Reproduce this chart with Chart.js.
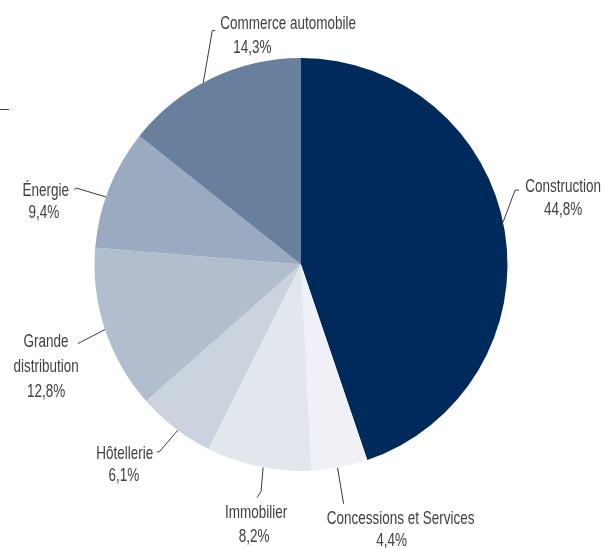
<!DOCTYPE html>
<html>
<head>
<meta charset="utf-8">
<script src="https://cdn.jsdelivr.net/npm/chart.js@4"></script>
<style>
  html, body { margin: 0; padding: 0; background: #fff; }
  #wrap { width: 605px; height: 548px; }
</style>
</head>
<body>
<div id="wrap"><canvas id="pie-chart"></canvas></div>
<script>
// Chart data
const categories = ['Construction', 'Concessions et Services', 'Immobilier', 'Hôtellerie', 'Grande distribution', 'Énergie', 'Commerce automobile'];
const shares = [44.8, 4.4, 8.2, 6.1, 12.8, 9.4, 14.3];
const labelLines = [
    ['Construction'],
    ['Concessions et Services'],
    ['Immobilier'],
    ['Hôtellerie'],
    ['Grande', 'distribution'],
    ['Énergie'],
    ['Commerce automobile']
];
const sliceColors = ['#002a5c', '#eff1f6', '#e2e6ed', '#cbd3de', '#b2bece', '#9aaac0', '#687f9e'];

// Leader line / label placement (style only)
const labelLayout = [
    { nudge: -2.5, elbow: [12, -32], tick: [4, 0],  text: [44, -3],  align: 'center', subDx: 0,  lh: 23 },
    { nudge: 0.6,  elbow: [6, 36],   tick: [0, 0],  text: [57, 15],  align: 'center', subDx: -9, lh: 22 },
    { nudge: -1.3, elbow: [-2, 24],  tick: [-4, 6], text: [-1, 15],  align: 'center', subDx: -2, lh: 24 },
    { nudge: -1,   elbow: [-18, 21], tick: [-3, 1], text: [-32, 2],  align: 'center', subDx: -1, lh: 22 },
    { nudge: 0,    elbow: [-27, 14], tick: [0, 0],  text: [-32, -2], align: 'center', subDx: 0,  lh: 25 },
    { nudge: -2.5, elbow: [-30, -9], tick: [-2, 2], text: [-28, 1],  align: 'center', subDx: -2, lh: 22 },
    { nudge: -2.5, elbow: [9, -52],  tick: [3, 0],  text: [5, -7],   align: 'left',   subDx: 13, lh: 24 }
];

const fontFamily = '"Liberation Sans", Arial, sans-serif';
const squeeze = 0.71; // fake a condensed face

function fmt(v) {
    return v.toFixed(1).replace('.', ',') + '%';
}

function narrowText(ctx, t, x, y) {
    ctx.save();
    ctx.translate(x, y);
    ctx.scale(squeeze, 1);
    ctx.fillText(t, 0, 0);
    ctx.restore();
}

const leaderLabels = {
    id: 'leaderLabels',
    afterDraw(chart) {
        const ctx = chart.ctx;
        const arcs = chart.getDatasetMeta(0).data;
        ctx.save();
        ctx.strokeStyle = '#3a3a3a';
        ctx.lineWidth = 1;
        ctx.fillStyle = '#404040';
        ctx.font = '19px ' + fontFamily;
        ctx.textBaseline = 'middle';

        arcs.forEach((arc, i) => {
            const p = arc.getProps(['x', 'y', 'startAngle', 'endAngle', 'outerRadius'], true);
            const lay = labelLayout[i];
            const a = (p.startAngle + p.endAngle) / 2 + lay.nudge * Math.PI / 180;
            const sx = p.x + Math.cos(a) * p.outerRadius;
            const sy = p.y + Math.sin(a) * p.outerRadius;
            const ex = sx + lay.elbow[0];
            const ey = sy + lay.elbow[1];
            const tx = ex + lay.tick[0];
            const ty = ey + lay.tick[1];

            ctx.beginPath();
            ctx.moveTo(sx, sy);
            ctx.lineTo(ex, ey);
            ctx.lineTo(tx, ty);
            ctx.stroke();

            const lines = labelLines[i].concat([fmt(shares[i])]);
            ctx.textAlign = lay.align;
            lines.forEach((t, k) => {
                const dx = k === lines.length - 1 ? lay.subDx : 0;
                narrowText(ctx, t, tx + lay.text[0] + dx, ty + lay.text[1] + k * lay.lh);
            });
        });

        // small rule at the top left edge
        ctx.beginPath();
        ctx.moveTo(0, 109.5);
        ctx.lineTo(9, 109.5);
        ctx.stroke();
        ctx.restore();
    }
};

function pieChartConfig() {
    const data = {
        labels: categories,
        datasets: [
            {
                data: shares,
                backgroundColor: sliceColors,
                borderWidth: 0,
                hoverOffset: 0
            }
        ]
    };

    const config = {
        type: 'pie',
        data: data,
        options: {
            responsive: true,
            maintainAspectRatio: false,
            animation: false,
            layout: {
                padding: { top: 58, bottom: 77, left: 94, right: 97 }
            },
            plugins: {
                legend: { display: false },
                tooltip: { enabled: false },
                title: { display: false }
            }
        },
        plugins: [leaderLabels]
    };
    return config;
}

const ctxPie = document.getElementById('pie-chart');
new Chart(ctxPie, pieChartConfig());
</script>
</body>
</html>
